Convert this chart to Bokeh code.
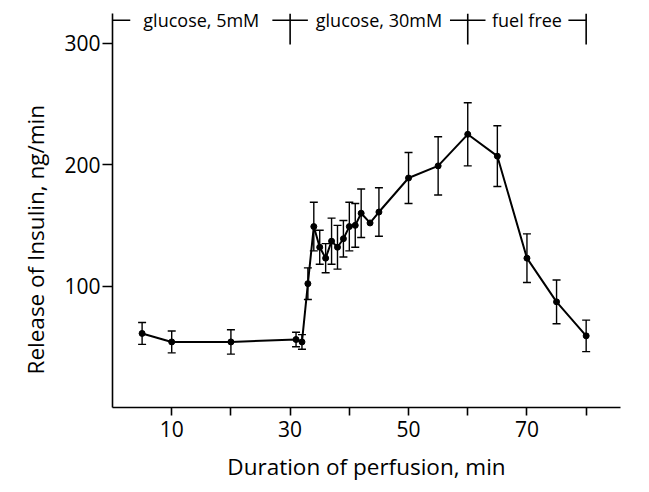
from bokeh.plotting import figure
from bokeh.models import ColumnDataSource, Whisker, TeeHead, FixedTicker, Range1d
from bokeh.core.properties import value
from bokeh.embed import file_html
from bokeh.resources import INLINE

# ---- data ----
time_min = [5, 10, 20, 31, 32, 33, 34, 35, 36, 37, 38, 39, 40, 41, 42, 43.5, 45,
            50, 55, 60, 65, 70, 75, 80]
insulin = [61, 54, 54, 56, 54, 102, 149, 132, 123, 137, 132, 139, 149, 150, 160,
           152, 161, 189, 199, 225, 207, 123, 87, 59]
sem = [9, 9, 10, 6, 6, 13, 20, 14, 12, 19, 18, 15, 20, 18, 20, 0, 20, 21, 24, 26,
       25, 20, 18, 13]

x_ticks = [10, 20, 30, 40, 50, 60, 70, 80]
x_tick_labels = ["10", "", "30", "", "50", "", "70", ""]
y_ticks = [100, 200, 300]

phase_bounds = [0, 30, 60, 80]
phase_labels = ["glucose, 5mM", "glucose, 30mM", "fuel free"]

FONT = "Open Sans"

W, H = 640, 484
p = figure(width=W, height=H, output_backend="svg", toolbar_location=None,
           x_range=Range1d(0, 85.8), y_range=Range1d(0, 324.5),
           min_border_left=112, min_border_right=20, min_border_top=13,
           min_border_bottom=75)
p.outline_line_color = None
p.xgrid.visible = False
p.ygrid.visible = False

for ax in (p.xaxis[0], p.yaxis[0]):
    ax.axis_line_color = "black"
    ax.axis_line_width = 1.6
    ax.major_tick_line_color = "black"
    ax.major_tick_line_width = 1.6
    ax.major_tick_in = 0
    ax.minor_tick_line_color = None
    ax.major_label_text_font = FONT
    ax.major_label_text_font_size = "21px"
    ax.major_label_text_color = "black"
    ax.axis_label_text_font = FONT
    ax.axis_label_text_font_style = "normal"
    ax.axis_label_text_font_size = "22.5px"
    ax.axis_label_text_color = "black"

p.xaxis.ticker = FixedTicker(ticks=x_ticks)
p.xaxis.major_label_overrides = {t: l for t, l in zip(x_ticks, x_tick_labels)}
p.xaxis.major_tick_out = 8
p.xaxis.major_label_standoff = 5
p.xaxis.axis_label = "Duration of perfusion, min"
p.xaxis.axis_label_standoff = 11

p.yaxis.ticker = FixedTicker(ticks=y_ticks)
p.yaxis.major_tick_out = 10
p.yaxis.major_label_standoff = 2
# trailing no-break spaces shift the centred title down, as in the reference
p.yaxis.axis_label = "Release of Insulin,  ng/min" + "\u00a0" * 9
p.yaxis.axis_label_standoff = 10

# data
src = ColumnDataSource(dict(x=time_min, y=insulin))
eb = [i for i, e in enumerate(sem) if e > 0]
esrc = ColumnDataSource(dict(x=[time_min[i] for i in eb],
                             lo=[insulin[i] - sem[i] for i in eb],
                             hi=[insulin[i] + sem[i] for i in eb]))
p.add_layout(Whisker(source=esrc, base="x", lower="lo", upper="hi",
                     line_color="black", line_width=1.4,
                     upper_head=TeeHead(size=8, line_color="black", line_width=1.4),
                     lower_head=TeeHead(size=8, line_color="black", line_width=1.4)))
p.line("x", "y", source=src, line_color="black", line_width=2)
p.scatter("x", "y", source=src, size=6, color="black")

# phase bar across the top
bar_y = 319
dash = 3.0
seg_x0, seg_x1 = [], []
for b in phase_bounds:
    seg_x0.append(max(phase_bounds[0], b - dash))
    seg_x1.append(min(phase_bounds[-1], b + dash))
p.segment(x0=seg_x0, y0=[bar_y] * len(seg_x0), x1=seg_x1, y1=[bar_y] * len(seg_x1),
          line_color="black", line_width=1.4)
vb = phase_bounds[1:]
p.segment(x0=vb, y0=[324.5] * len(vb), x1=vb, y1=[299] * len(vb),
          line_color="black", line_width=1.6)
mids = [(a + b) / 2 for a, b in zip(phase_bounds[:-1], phase_bounds[1:])]
p.text(x=mids, y=[bar_y] * len(mids), text=phase_labels,
       text_font=value(FONT), text_font_size="18px", text_color="black",
       text_align="center", text_baseline="middle")

open("out.html", "w").write(file_html(p, INLINE))
